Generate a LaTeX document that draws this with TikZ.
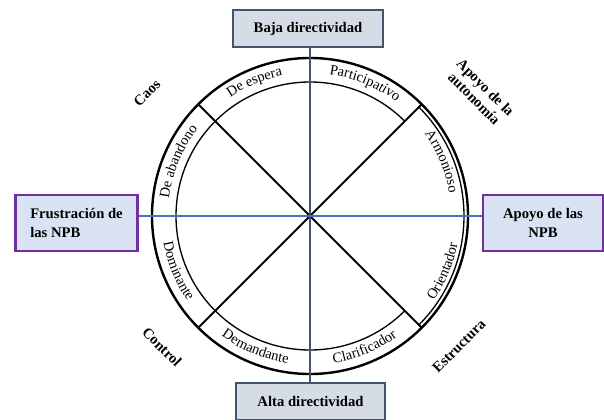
\documentclass[tikz,border=0pt]{standalone}
\usepackage{fontspec}
\setmainfont{Liberation Serif}
\usetikzlibrary{decorations.text,calc}
\definecolor{slate}{HTML}{44546A}
\definecolor{slatefill}{HTML}{D6DCE5}
\definecolor{purp}{HTML}{7030A0}
\definecolor{lblue}{HTML}{DAE3F3}
\definecolor{hblue}{HTML}{4472C4}
\begin{document}
\begin{tikzpicture}[x=0.75pt,y=0.75pt,
  dirbox/.style={draw=slate, fill=slatefill, line width=1.7pt, minimum width=112pt, minimum height=27.5pt, inner sep=0pt, font=\fontsize{11}{13}\selectfont\bfseries},
  npbbox/.style={draw=purp, fill=lblue, line width=2.2pt, minimum height=42pt, inner sep=0pt, font=\fontsize{11}{14}\selectfont\bfseries},
  corner/.style={font=\fontsize{11}{12}\selectfont\bfseries, align=center, inner sep=0pt},
  ringtop/.style={decorate, decoration={text along path, text align=center, text={|\fontsize{10.8}{12}\selectfont|#1}}},
  outerring/.style={line width=1.8pt},
  innerring/.style={line width=1pt},
  spoke/.style={line width=1.4pt},
]
\useasboundingbox (0,0) rectangle (604,419);
\coordinate (c) at (310,203);
% boxes
\node[dirbox] (tb) at (308,390.5) {Baja directividad};
\node[dirbox] (bb) at (310.5,17.5) {Alta directividad};
\node[npbbox, minimum width=92pt, align=left] (lb) at (76.5,196) {Frustración de\\las NPB};
\node[npbbox, minimum width=90pt, align=center] (rb) at (543,196) {Apoyo de las\\NPB};
% rings
\draw[outerring] (c) circle[radius=158];
\draw[innerring] (c) ++(45:134) arc[start angle=45, end angle=315, radius=134];
\draw[innerring] (c) ++(-45:154) arc[start angle=-45, end angle=45, radius=154];
% spokes
\coordinate (d1) at ($(c)+(45:158)$);
\coordinate (d2) at ($(c)+(225:158)$);
\coordinate (d3) at ($(c)+(135:158)$);
\coordinate (d4) at ($(c)+(315:158)$);
\draw[spoke] (d1) -- (d2);
\draw[spoke] (d3) -- (d4);
\draw[slate, line width=2pt] (c |- tb.south) -- (c |- bb.north);
\draw[hblue, line width=1.3pt] (lb.east |- c) -- (rb.west |- c);
% ring texts (upper half, clockwise)
\path[ringtop={De abandono}] (c) ++(180:142) arc[start angle=180, end angle=135, radius=142];
\path[ringtop={De espera}] (c) ++(135:143) arc[start angle=135, end angle=90, radius=143];
\path[ringtop={Participativo}] (c) ++(90:143) arc[start angle=90, end angle=45, radius=143];
\path[ringtop={Armonioso}] (c) ++(45:141) arc[start angle=45, end angle=0, radius=141];
% lower half, counterclockwise
\path[ringtop={Dominante}] (c) ++(180:149) arc[start angle=180, end angle=225, radius=149];
\path[ringtop={Demandante}] (c) ++(225:149) arc[start angle=225, end angle=270, radius=149];
\path[ringtop={Clarificador}] (c) ++(270:149) arc[start angle=270, end angle=315, radius=149];
\path[ringtop={Orientador}] (c) ++(315:150) arc[start angle=315, end angle=360, radius=150];
% corner labels
\node[corner, rotate=45] (caos) at (147,326) {Caos};
\node[corner, rotate=-45] (apoyo) at (480,326) {Apoyo de la\\autonomía};
\node[corner, rotate=-45] (control) at (162,72) {Control};
\node[corner, rotate=45] (estr) at (459,73) {Estructura};
\end{tikzpicture}
\end{document}
